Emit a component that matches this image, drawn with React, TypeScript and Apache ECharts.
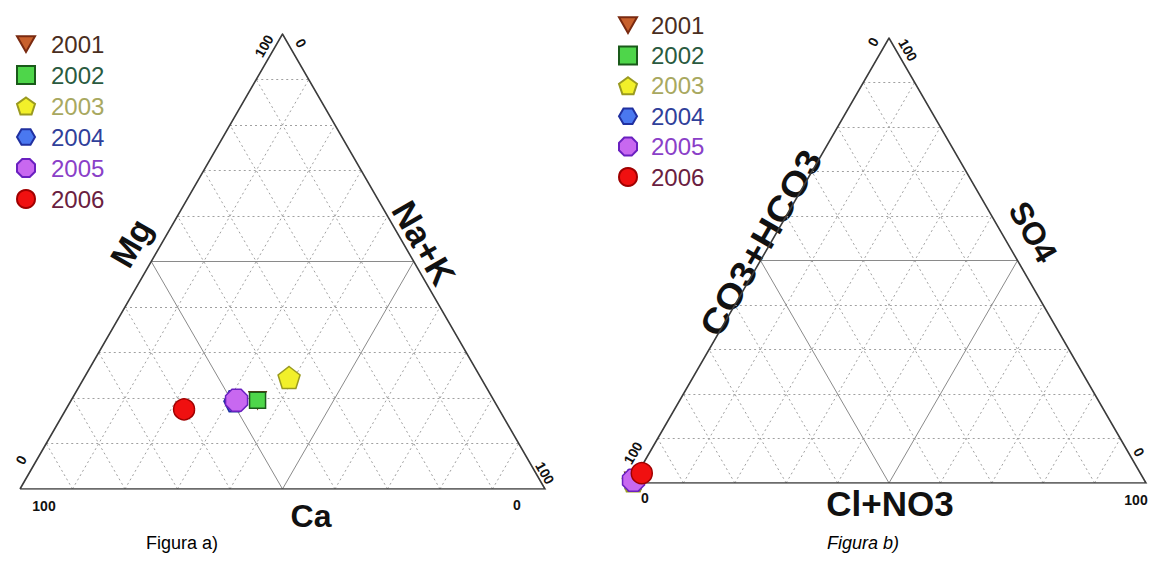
import React, { useEffect, useRef } from "react";
import * as echarts from "echarts";

// ---------- data ----------
const years = ["2001", "2002", "2003", "2004", "2005", "2006"];
// Figura a) cations (%)
const caA = [45, 45, 36.5, 49.5, 49, 60];
const mgA = [19.5, 19.5, 24.5, 19.3, 19.5, 17.5];
const nakA = [35.5, 35.5, 39, 31.2, 31.5, 22.5];
// Figura b) anions (%)
const hco3B = [99.5, 99.5, 99.5, 99.4, 99.4, 97];
const so4B = [0.5, 0.5, 0.5, 0.6, 0.6, 2.2];
const clB = [0, 0, 0, 0, 0, 0.8];
// grid ticks (%)
const gridTicks = [10, 20, 30, 40, 50, 60, 70, 80, 90];

// ---------- styles ----------
const H = Math.sqrt(3) / 2;
const FONT = "'Liberation Sans', Arial, sans-serif";
const symbols = [
  "path://M-1,-0.85 L1,-0.85 L0,0.9 Z",
  "path://M-1,-1 L1,-1 L1,1 L-1,1 Z",
  "path://M0,-1 L0.951,-0.309 L0.588,0.809 L-0.588,0.809 L-0.951,-0.309 Z",
  "path://M0.5,-0.866 L1,0 L0.5,0.866 L-0.5,0.866 L-1,0 L-0.5,-0.866 Z",
  "path://M-0.38,-0.92 L0.38,-0.92 L0.92,-0.38 L0.92,0.38 L0.38,0.92 L-0.38,0.92 L-0.92,0.38 L-0.92,-0.38 Z",
  "circle",
];
const sizes = [17, 16, 22, 21, 22, 21];
const fills = ["#c8602c", "#4ed64a", "#f2f02a", "#4a78f0", "#c868f0", "#f01010"];
const borders = ["#7a2a10", "#1a5a1a", "#9a9a20", "#2030a0", "#6a20c0", "#a00000"];
const textColors = ["#4a2e1e", "#2a5a40", "#a8a860", "#30409a", "#8a40c8", "#6a2040"];

// ternary -> cartesian (left corner, right corner, apex)
function tern(left: number, right: number, apex: number): [number, number] {
  const s = left + right + apex;
  const r = right / s;
  const a = apex / s;
  return [r + a / 2, a * H];
}

function gridLineSeries(axis: number) {
  const dotted: any[] = [];
  const solid: any[] = [];
  gridTicks.forEach((t) => {
    const k = t / 100;
    const segs = [
      [[k / 2, k * H], [1 - k / 2, k * H]],
      [[k, 0], [k + (1 - k) / 2, (1 - k) * H]],
      [[1 - k, 0], [(1 - k) / 2, (1 - k) * H]],
    ];
    segs.forEach((c) => (t === 50 ? solid : dotted).push({ coords: c }));
  });
  return [
    {
      type: "lines",
      name: "dotted" + axis,
      coordinateSystem: "cartesian2d",
      xAxisIndex: axis,
      yAxisIndex: axis,
      silent: true,
      z: 1,
      lineStyle: { color: "#a0a0a0", width: 1, type: [2, 3], opacity: 1 },
      data: dotted,
    },
    {
      type: "lines",
      name: "solid" + axis,
      coordinateSystem: "cartesian2d",
      xAxisIndex: axis,
      yAxisIndex: axis,
      silent: true,
      z: 1,
      lineStyle: { color: "#8a8a8a", width: 1, type: "solid", opacity: 1 },
      data: solid,
    },
    {
      type: "lines",
      name: "outline" + axis,
      coordinateSystem: "cartesian2d",
      xAxisIndex: axis,
      yAxisIndex: axis,
      polyline: true,
      silent: true,
      z: 2,
      lineStyle: { color: "#3c3c3c", width: 1.6, opacity: 1 },
      data: [{ coords: [[0, 0], [1, 0], [0.5, H], [0, 0]] }],
    },
  ];
}

function txt(text: string, x: number, y: number, size: number, rot = 0, extra: any = {}, scaleX = 1) {
  return {
    type: "text",
    x,
    y,
    rotation: rot,
    scaleX,
    silent: true,
    style: {
      text,
      fontSize: size,
      fontWeight: "bold",
      fontFamily: FONT,
      fill: "#111",
      align: "center",
      verticalAlign: "middle",
      ...extra,
    },
  };
}

export default function App() {
  const ref = useRef<HTMLDivElement>(null);
  useEffect(() => {
    if (!ref.current) return;
    const chart = echarts.init(ref.current, undefined, { renderer: "svg" });
    const P3 = Math.PI / 3;

    const scatter: any[] = [];
    years.forEach((y, i) => {
      const common = {
        type: "scatter",
        name: y,
        symbol: symbols[i],
        symbolSize: sizes[i],
        itemStyle: { color: fills[i], borderColor: borders[i], borderWidth: 1.5, opacity: 1 },
        z: 5,
      };
      scatter.push({
        ...common,
        xAxisIndex: 0,
        yAxisIndex: 0,
        data: [tern(caA[i], nakA[i], mgA[i])],
      });
      scatter.push({
        ...common,
        xAxisIndex: 1,
        yAxisIndex: 1,
        data: [tern(hco3B[i], clB[i], so4B[i])],
      });
    });

    const legendData = years.map((y, i) => ({
      name: y,
      icon: symbols[i],
      textStyle: { color: textColors[i] },
    }));
    const legendCommon = {
      orient: "vertical",
      itemWidth: 18,
      itemHeight: 18,
      padding: 0,
      selectedMode: false,
      data: legendData,
    };

    const axisCommon = { show: false, type: "value" };

    chart.setOption({
      animation: false,
      backgroundColor: "#ffffff",
      grid: [
        { left: 20, top: 34, width: 525, height: 455 },
        { left: 632, top: 38, width: 514, height: 445 },
      ],
      xAxis: [
        { ...axisCommon, gridIndex: 0, min: 0, max: 1 },
        { ...axisCommon, gridIndex: 1, min: 0, max: 1 },
      ],
      yAxis: [
        { ...axisCommon, gridIndex: 0, min: 0, max: H },
        { ...axisCommon, gridIndex: 1, min: 0, max: H },
      ],
      legend: [
        {
          ...legendCommon,
          left: 16,
          top: 32,
          itemGap: 7,
          textStyle: { fontSize: 24, lineHeight: 24, fontFamily: FONT, padding: [0, 0, 0, 11] },
        },
        {
          ...legendCommon,
          left: 618,
          top: 13,
          itemGap: 6.4,
          textStyle: { fontSize: 24, lineHeight: 24, fontFamily: FONT, padding: [0, 0, 0, 9] },
        },
      ],
      series: [...gridLineSeries(0), ...gridLineSeries(1), ...scatter],
      graphic: [
        // Figura a)
        txt("Mg", 131, 243, 34, P3),
        txt("Na+K", 424, 243, 35, -P3),
        txt("Ca", 311, 516, 32),
        txt("100", 264, 46, 14, P3),
        txt("0", 301, 43, 14, -P3),
        txt("0", 21, 460, 14, P3),
        txt("100", 44, 506, 14),
        txt("0", 517, 505, 14),
        txt("100", 545, 473, 14, -P3),
        // Figura b)
        txt("CO3+HCO3", 761, 243, 35, P3, {}, 1.1),
        txt("SO4", 1033, 232, 32, -P3),
        txt("Cl+NO3", 890, 503, 35),
        txt("0", 873, 42, 14, P3),
        txt("100", 908, 50, 14, -P3),
        txt("100", 633, 453, 14, P3),
        txt("0", 645, 498, 14),
        txt("100", 1136, 500, 14),
        txt("0", 1139, 452, 14, -P3),
        // captions
        txt("Figura a)", 146, 543, 18, 0, { fontWeight: "normal", align: "left", fill: "#000" }),
        txt("Figura b)", 827, 543, 18, 0, {
          fontWeight: "normal",
          fontStyle: "italic",
          align: "left",
          fill: "#000",
        }),
      ],
    });
    return () => chart.dispose();
  }, []);
  return (
    <div
      ref={ref}
      style={{ position: "absolute", left: 0, top: 0, width: 1149, height: 565, background: "#fff" }}
    />
  );
}
